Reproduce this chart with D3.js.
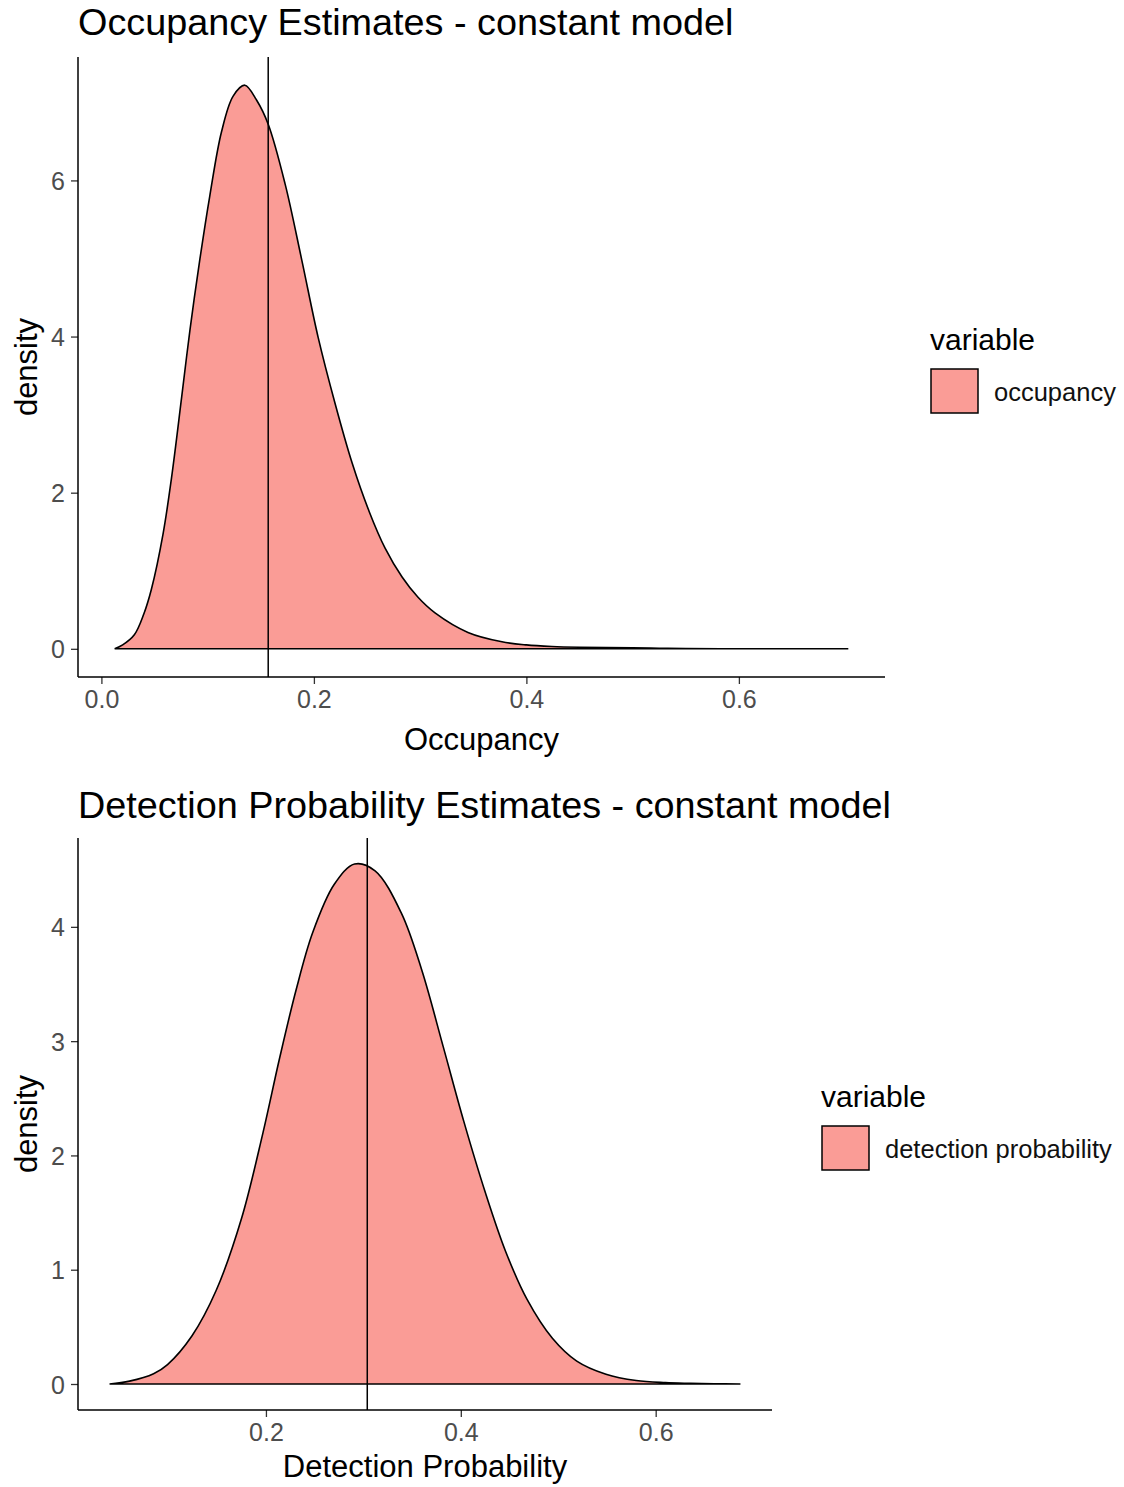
<!DOCTYPE html>
<html>
<head>
<meta charset="utf-8">
<script src="https://cdn.jsdelivr.net/npm/d3@7"></script>
<style>
  body { margin: 0; background: #fff; }
  svg text { font-family: "Liberation Sans", Arial, sans-serif; }
</style>
</head>
<body>
<div id="svg-container"></div>
<script>
// occupancy posterior density
var occX = [0.0125, 0.02, 0.031, 0.040, 0.047, 0.058, 0.066, 0.0756, 0.0834, 0.0928, 0.102, 0.113, 0.124, 0.135, 0.146, 0.157, 0.173, 0.1886, 0.204, 0.220, 0.236, 0.252, 0.267, 0.283, 0.298, 0.314, 0.345, 0.377, 0.40, 0.424, 0.45, 0.50, 0.525, 0.55, 0.60, 0.65, 0.703];
var occY = [0, 0.05, 0.18, 0.45, 0.76, 1.47, 2.19, 3.23, 4.09, 5.00, 5.80, 6.62, 7.08, 7.22, 7.03, 6.72, 5.95, 4.98, 3.99, 3.14, 2.38, 1.76, 1.29, 0.92, 0.66, 0.46, 0.21, 0.09, 0.05, 0.03, 0.02, 0.012, 0.008, 0.003, 0.0015, 0.0007, 0];
var occMean = 0.157;

// detection probability posterior density
var detX = [0.0395, 0.06, 0.0847, 0.099, 0.124, 0.149, 0.175, 0.197, 0.214, 0.231, 0.248, 0.270, 0.291, 0.312, 0.339, 0.360, 0.382, 0.403, 0.425, 0.446, 0.468, 0.494, 0.519, 0.549, 0.58, 0.61, 0.636, 0.66, 0.687];
var detY = [0, 0.025, 0.09, 0.17, 0.42, 0.82, 1.45, 2.2, 2.85, 3.45, 3.95, 4.37, 4.55, 4.49, 4.12, 3.62, 2.95, 2.30, 1.68, 1.16, 0.74, 0.40, 0.20, 0.085, 0.03, 0.012, 0.006, 0.002, 0];
var detMean = 0.304;

// tick labels
var occXTicks = [0.0, 0.2, 0.4, 0.6];
var occYTicks = [0, 2, 4, 6];
var detXTicks = [0.2, 0.4, 0.6];
var detYTicks = [0, 1, 2, 3, 4];

var svg = d3
  .select("#svg-container")
  .append("svg")
  .attr("width", 1124)
  .attr("height", 1487);

//expand a range by 5% like ggplot does
function expand(ext) {
  var pad = (ext[1] - ext[0]) * 0.05;
  return [ext[0] - pad, ext[1] + pad];
}

function drawPanel(p) {
  var data = p.xs.map(function (d, i) {
    return { x: d, y: p.ys[i] };
  });

  var x = d3.scaleLinear().domain(expand(d3.extent(p.xs))).range([p.left, p.right]);
  var y = d3.scaleLinear().domain(expand([0, d3.max(p.ys)])).range([p.bottom, p.top]);

  var g = svg.append("g");

  //the title
  g.append("text")
    .attr("x", p.left)
    .attr("y", p.titleY)
    .attr("font-size", "37.8px")
    .attr("fill", "#000")
    .text(p.title);

  //the density
  var area = d3
    .area()
    .curve(d3.curveCatmullRom.alpha(0.5))
    .x(function (d) { return x(d.x); })
    .y0(y(0))
    .y1(function (d) { return Math.min(y(0), y(d.y)); });

  g.append("path")
    .datum(data)
    .attr("d", area)
    .attr("fill", "#F8766D")
    .attr("fill-opacity", 0.72)
    .attr("stroke", "#000")
    .attr("stroke-width", 1.6);

  //the mean line
  g.append("line")
    .attr("x1", x(p.mean))
    .attr("x2", x(p.mean))
    .attr("y1", p.top)
    .attr("y2", p.bottom)
    .attr("stroke", "#000")
    .attr("stroke-width", 1.5);

  //the axes
  var xAxis = g
    .append("g")
    .attr("transform", "translate(0," + p.bottom + ")")
    .call(d3.axisBottom(x).tickValues(p.xTicks).tickSize(7).tickPadding(6).tickFormat(d3.format(".1f")));
  var yAxis = g
    .append("g")
    .attr("transform", "translate(" + p.left + ",0)")
    .call(d3.axisLeft(y).tickValues(p.yTicks).tickSize(7).tickPadding(6).tickFormat(d3.format("d")));

  [xAxis, yAxis].forEach(function (a) {
    a.select(".domain").remove();
    a.selectAll(".tick line").attr("stroke", "#333").attr("stroke-width", 1.3);
    a.selectAll(".tick text")
      .attr("fill", "#4d4d4d")
      .attr("font-size", "25px")
      .attr("font-family", "Liberation Sans, Arial, sans-serif");
  });
  yAxis.selectAll(".tick text").attr("dy", "0.36em");

  g.append("line")
    .attr("x1", p.left).attr("x2", p.right)
    .attr("y1", p.bottom).attr("y2", p.bottom)
    .attr("stroke", "#000").attr("stroke-width", 1.5);
  g.append("line")
    .attr("x1", p.left).attr("x2", p.left)
    .attr("y1", p.top).attr("y2", p.bottom)
    .attr("stroke", "#000").attr("stroke-width", 1.5);

  //axis titles
  g.append("text")
    .attr("x", (p.left + p.right) / 2)
    .attr("y", p.bottom + p.xTitleDy)
    .attr("text-anchor", "middle")
    .attr("font-size", "31px")
    .text(p.xTitle);

  g.append("text")
    .attr("transform", "translate(37," + (p.top + p.bottom) / 2 + ") rotate(-90)")
    .attr("text-anchor", "middle")
    .attr("font-size", "31px")
    .text("density");

  //the legend
  var lg = g.append("g").attr("transform", "translate(" + p.legendX + "," + p.legendY + ")");
  lg.append("text").attr("x", 0).attr("y", 0).attr("font-size", "30px").text("variable");
  lg.append("rect")
    .attr("x", 1)
    .attr("y", 19)
    .attr("width", 47)
    .attr("height", 44)
    .attr("fill", "#F8766D")
    .attr("fill-opacity", 0.72)
    .attr("stroke", "#000")
    .attr("stroke-width", 1.5);
  lg.append("text")
    .attr("x", 64)
    .attr("y", 51)
    .attr("font-size", "25.5px")
    .attr("fill", "#111")
    .text(p.legendLabel);
}

drawPanel({
  xs: occX, ys: occY, mean: occMean,
  xTicks: occXTicks, yTicks: occYTicks,
  left: 78, right: 885, top: 57, bottom: 677,
  title: "Occupancy Estimates - constant model", titleY: 35,
  xTitle: "Occupancy", xTitleDy: 73,
  legendX: 930, legendY: 350, legendLabel: "occupancy"
});

drawPanel({
  xs: detX, ys: detY, mean: detMean,
  xTicks: detXTicks, yTicks: detYTicks,
  left: 78, right: 772, top: 838, bottom: 1410,
  title: "Detection Probability Estimates - constant model", titleY: 818,
  xTitle: "Detection Probability", xTitleDy: 67,
  legendX: 821, legendY: 1107, legendLabel: "detection probability"
});
</script>
</body>
</html>
